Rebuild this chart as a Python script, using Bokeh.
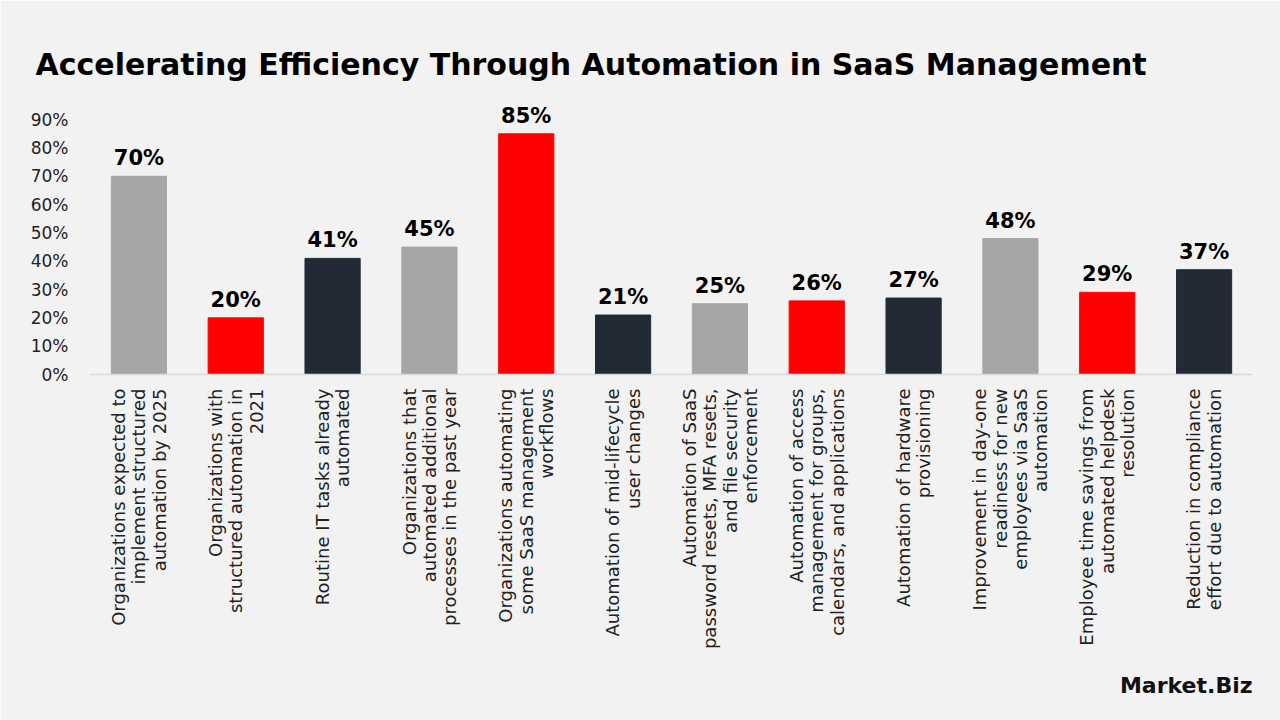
import math
from bokeh.plotting import figure
from bokeh.models import Range1d, FactorRange, FixedTicker, NumeralTickFormatter, Title, ColumnDataSource
from bokeh.core.properties import value
from bokeh.embed import file_html
from bokeh.resources import INLINE

categories = [
    "Organizations expected to\nimplement structured\nautomation by 2025",
    "Organizations with\nstructured automation in\n2021",
    "Routine IT tasks already\nautomated",
    "Organizations that\nautomated additional\nprocesses in the past year",
    "Organizations automating\nsome SaaS management\nworkflows",
    "Automation of mid-lifecycle\nuser changes",
    "Automation of SaaS\npassword resets, MFA resets,\nand file security\nenforcement",
    "Automation of access\nmanagement for groups,\ncalendars, and applications",
    "Automation of hardware\nprovisioning",
    "Improvement in day-one\nreadiness for new\nemployees via SaaS\nautomation",
    "Employee time savings from\nautomated helpdesk\nresolution",
    "Reduction in compliance\neffort due to automation",
]
values = [0.70, 0.20, 0.41, 0.45, 0.85, 0.21, 0.25, 0.26, 0.27, 0.48, 0.29, 0.37]
value_labels = ["70%", "20%", "41%", "45%", "85%", "21%", "25%", "26%", "27%", "48%", "29%", "37%"]
GRAY, RED, DARK = "#a6a6a6", "#ff0000", "#222a35"
bar_colors = [GRAY, RED, DARK, GRAY, RED, DARK, GRAY, RED, DARK, GRAY, RED, DARK]
y_ticks = [0.0, 0.1, 0.2, 0.3, 0.4, 0.5, 0.6, 0.7, 0.8, 0.9]

FONT = "DejaVu Sans"
BG = "#f2f2f2"

src = ColumnDataSource(dict(cat=categories, val=values, lab=value_labels, color=bar_colors))

p = figure(width=1280, height=720, x_range=FactorRange(*categories), y_range=Range1d(0, 0.95),
           output_backend="svg", toolbar_location=None,
           min_border_left=90, min_border_right=28, min_border_top=105, min_border_bottom=346)
p.background_fill_color = BG
p.border_fill_color = BG
p.outline_line_color = None
p.xgrid.grid_line_color = None
p.ygrid.grid_line_color = None
p.x_range.range_padding = 0

p.vbar(x="cat", top="val", width=0.57, color="color", source=src)
p.text(x="cat", y="val", text="lab", source=src, text_align="center", text_baseline="bottom",
       y_offset=-6, text_font=value(FONT), text_font_style="bold", text_font_size="21px",
       text_color="#000000")

# x axis
xa = p.xaxis[0]
xa.axis_line_color = "#d9d9d9"
xa.axis_line_width = 1.5
xa.major_tick_line_color = None
xa.minor_tick_line_color = None
xa.major_label_orientation = math.pi / 2
xa.major_label_text_font = FONT
xa.major_label_text_font_size = "18px"
xa.major_label_text_line_height = 0.97
xa.major_label_text_align = "center"
xa.major_label_text_color = "#222222"
xa.major_label_standoff = 8

# y axis
ya = p.yaxis[0]
ya.ticker = FixedTicker(ticks=y_ticks)
ya.formatter = NumeralTickFormatter(format="0%")
ya.axis_line_color = None
ya.major_tick_line_color = None
ya.minor_tick_line_color = None
ya.major_label_text_font = FONT
ya.major_label_text_font_size = "17px"
ya.major_label_text_color = "#222222"
ya.major_label_standoff = 16

p.title = Title(text="Accelerating Efficiency Through Automation in SaaS Management",
                text_font=FONT, text_font_style="bold", text_font_size="30px",
                text_color="#000000", align="left", offset=-55, standoff=48)

logo = Title(text="Market.Biz", text_font=FONT, text_font_style="bold", text_font_size="22px",
             text_color="#111111", align="right", offset=0, standoff=36)
p.add_layout(logo, "below")

open("out.html", "w").write(file_html(p, INLINE))
